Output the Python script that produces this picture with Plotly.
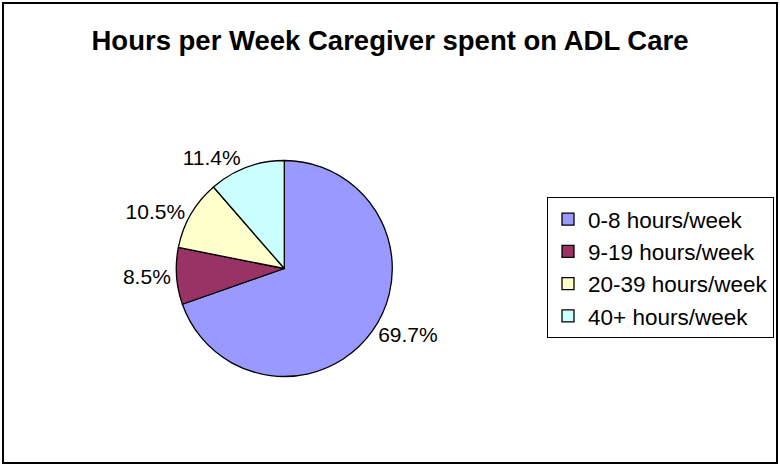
import plotly.graph_objects as go

categories = ["0-8 hours/week", "9-19 hours/week", "20-39 hours/week", "40+ hours/week"]
values = [69.7, 8.5, 10.5, 11.4]
colors = ["#9999FF", "#993366", "#FFFFCC", "#CCFFFF"]
title_text = "Hours per Week Caregiver spent on ADL Care"

W, H = 780, 466
cx, cy, r = 284.3, 268.5, 108.0

fig = go.Figure(go.Pie(
    labels=categories,
    values=values,
    sort=False,
    direction="clockwise",
    rotation=0,
    marker=dict(colors=colors, line=dict(color="black", width=1.3)),
    texttemplate="%{value:.1f}%",
    textposition="outside",
    textfont=dict(family="Liberation Sans, Arial, sans-serif", size=21, color="black"),
    hoverinfo="label+value",
    domain=dict(x=[(cx - r) / W, (cx + r) / W], y=[(H - cy - r) / H, (H - cy + r) / H]),
))

fig.update_layout(
    width=W, height=H,
    margin=dict(l=0, r=0, t=0, b=0),
    paper_bgcolor="white",
    plot_bgcolor="white",
    title=dict(
        text=title_text,
        x=0.5, xanchor="center",
        y=1 - 40 / H, yanchor="middle",
        font=dict(family="Liberation Sans, Arial, sans-serif", size=27.5, color="black", weight="bold"),
    ),
    legend=dict(
        x=547 / W, xanchor="left",
        y=1 - 197 / H, yanchor="top",
        bordercolor="black", borderwidth=1,
        bgcolor="white",
        font=dict(family="Liberation Sans, Arial, sans-serif", size=22.5, color="black"),
    ),
    shapes=[dict(
        type="rect", xref="paper", yref="paper",
        x0=3 / W, x1=777 / W, y0=3 / H, y1=463 / H,
        line=dict(color="black", width=2),
    )],
)

fig.write_html(
    "out.html",
    config={"displayModeBar": False},
    post_script="document.body.style.margin='0';document.body.style.padding='0';document.body.style.overflow='hidden';",
)
